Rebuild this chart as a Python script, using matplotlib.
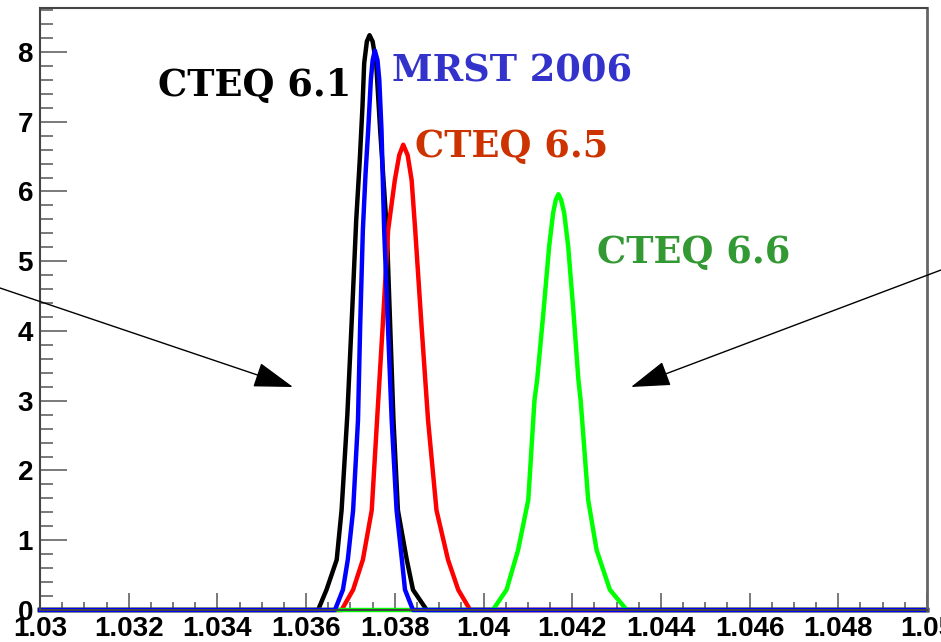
import matplotlib
matplotlib.use('Agg')
import matplotlib.pyplot as plt
from matplotlib.ticker import MultipleLocator, FormatStrFormatter

# Curves (x, density)
cteq61_x = [1.03, 1.03627, 1.03646, 1.03669, 1.03680, 1.03693, 1.03704, 1.03713, 1.03721, 1.03727, 1.03731,
            1.03737, 1.03743, 1.03750, 1.03758, 1.03767, 1.03782, 1.03790, 1.03797, 1.03807, 1.03827,
            1.03841, 1.03872, 1.05]
cteq61_y = [0, 0, 0.29, 0.72, 1.43, 2.80, 4.30, 5.59, 6.45, 7.20, 7.84,
            8.15, 8.24, 8.15, 7.84, 6.88, 5.45, 4.00, 2.72, 1.43, 0.72,
            0.29, 0, 0]

mrst_x = [1.03, 1.03665, 1.03683, 1.03694, 1.03706, 1.03717, 1.03722, 1.03728, 1.03734, 1.03740, 1.03746,
          1.03750, 1.03755, 1.03761, 1.03765, 1.03770, 1.03776, 1.03785, 1.03793, 1.03804, 1.03816,
          1.03823, 1.03841, 1.05]
mrst_y = [0, 0, 0.29, 0.72, 1.43, 2.72, 4.10, 5.45, 6.25, 6.88, 7.60,
          7.88, 8.02, 7.88, 7.60, 6.88, 5.45, 4.00, 2.72, 1.43, 0.72,
          0.29, 0, 0]

cteq65_x = [1.03, 1.03680, 1.03706, 1.03728, 1.03748, 1.03760, 1.03773, 1.03785, 1.03800, 1.03810, 1.03819,
            1.03829, 1.03838, 1.03846, 1.03860, 1.03875, 1.03894, 1.03920, 1.03943, 1.03970, 1.05]
cteq65_y = [0, 0, 0.29, 0.72, 1.43, 2.72, 4.10, 5.45, 6.16, 6.52, 6.67,
            6.52, 6.16, 5.45, 4.10, 2.72, 1.43, 0.72, 0.29, 0, 0]

cteq66_x = [1.03, 1.04021, 1.04052, 1.04078, 1.04101, 1.04115, 1.04121, 1.04135, 1.04148, 1.04157, 1.04163,
            1.04169, 1.04175, 1.04182, 1.04191, 1.04203, 1.04214, 1.04219, 1.04236, 1.04255, 1.04285,
            1.04323, 1.05]
cteq66_y = [0, 0, 0.29, 0.86, 1.58, 3.01, 3.30, 4.26, 5.21, 5.69, 5.88,
            5.96, 5.88, 5.69, 5.21, 4.26, 3.30, 3.01, 1.58, 0.86, 0.29,
            0, 0]

labels = ['CTEQ 6.1', 'MRST 2006', 'CTEQ 6.5', 'CTEQ 6.6']
label_x = [1.03266, 1.03794, 1.03846, 1.04256]
label_y = [7.37, 7.57, 6.49, 4.97]
label_colors = ['#000000', '#3333cc', '#cc3300', '#339933']

fig = plt.figure(figsize=(9.41, 6.42), dpi=100)
ax = fig.add_axes([40 / 941, 32 / 642, 887 / 941, 602 / 642])

# drawing order: black, red, green, blue on top
ax.plot(cteq61_x, cteq61_y, color='#000000', lw=3.2, clip_on=False, solid_joinstyle='round')
ax.plot(cteq65_x, cteq65_y, color='#ff0000', lw=3.2, clip_on=False, solid_joinstyle='round')
ax.plot(cteq66_x, cteq66_y, color='#00ff00', lw=3.2, clip_on=False, solid_joinstyle='round')
ax.plot(mrst_x, mrst_y, color='#0000ff', lw=3.2, clip_on=False, solid_joinstyle='round')

ax.set_xlim(1.03, 1.05)
ax.set_ylim(0, 8.63)

for txt, x, y, c in zip(labels, label_x, label_y, label_colors):
    ax.text(x, y, txt, color=c, fontsize=26.5, fontweight='bold',
            family='DejaVu Serif', va='baseline', ha='left')

# arrows (tails run off the frame)
arrow = dict(arrowstyle='-|>,head_length=1.25,head_width=0.4', mutation_scale=20,
             lw=1, color='black', shrinkA=0, shrinkB=0)
ax.annotate('', xy=(293, 642 - 387), xytext=(0, 642 - 288),
            xycoords='figure pixels', textcoords='figure pixels', arrowprops=arrow)
ax.annotate('', xy=(631, 642 - 387), xytext=(941, 642 - 270),
            xycoords='figure pixels', textcoords='figure pixels', arrowprops=arrow)

# ROOT-like axes
ax.xaxis.set_major_locator(MultipleLocator(0.002))
ax.xaxis.set_minor_locator(MultipleLocator(0.0005))
ax.yaxis.set_major_locator(MultipleLocator(1))
ax.yaxis.set_minor_locator(MultipleLocator(0.2))
ax.xaxis.set_major_formatter(FormatStrFormatter('%g'))
ax.yaxis.set_major_formatter(FormatStrFormatter('%g'))

ax.tick_params(axis='both', which='both', direction='in', color='#555555', width=1.1,
               top=False, right=False)
ax.tick_params(axis='y', which='major', length=19.5, pad=5)
ax.tick_params(axis='y', which='minor', length=9.5)
ax.tick_params(axis='x', which='major', length=12, pad=4)
ax.tick_params(axis='x', which='minor', length=6)

for lab in ax.get_xticklabels() + ax.get_yticklabels():
    lab.set_family('Liberation Sans')
    lab.set_fontweight('bold')
    lab.set_fontsize(20)

for side in ['left', 'bottom', 'top']:
    ax.spines[side].set_color('#444444')
    ax.spines[side].set_linewidth(1.5)
ax.spines['right'].set_color('#666666')
ax.spines['right'].set_linewidth(2)

fig.savefig('out.png', dpi=100)
